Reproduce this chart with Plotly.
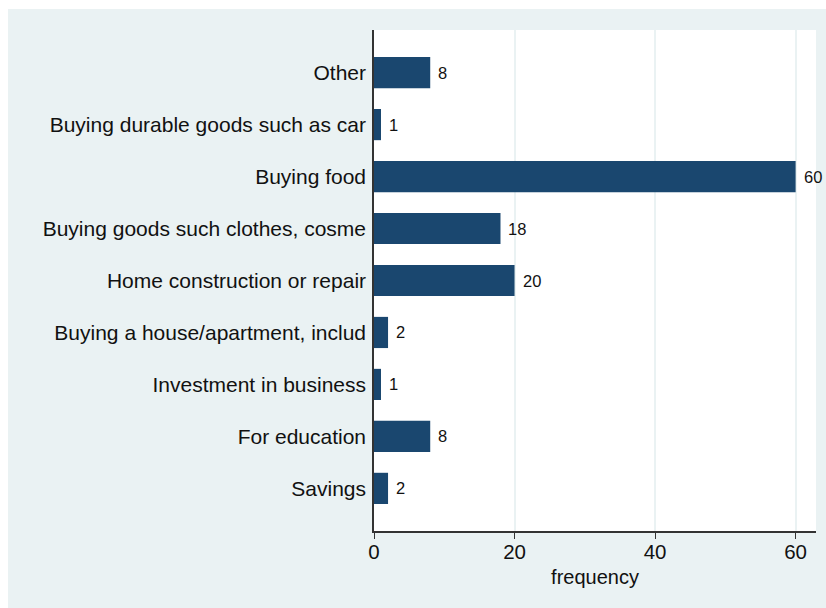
"""Horizontal bar chart of the reported use of money (frequency)."""

import plotly.graph_objects as go

################################################################################
# Data (top to bottom as shown)

categories = [
    "Other",
    "Buying durable goods such as car",
    "Buying food",
    "Buying goods such clothes, cosme",
    "Home construction or repair",
    "Buying a house/apartment, includ",
    "Investment in business",
    "For education",
    "Savings",
]
frequency = [8, 1, 60, 18, 20, 2, 1, 8, 2]
x_ticks = [0, 20, 40, 60]

################################################################################
# Figure

BAR_COLOR = "#1A476F"
BG_COLOR = "#EAF2F3"
FONT = "Liberation Sans, Arial, Helvetica, sans-serif"

fig = go.Figure()
fig.add_trace(
    go.Bar(x=frequency, y=categories, orientation="h",
           marker=dict(color=BAR_COLOR, line=dict(width=0)),
           width=0.6, hoverinfo="x+y"))

# value labels to the right of every bar
for cat, val in zip(categories, frequency):
    fig.add_annotation(x=val, y=cat, text=str(val), showarrow=False,
                       xanchor="left", xshift=6,
                       font=dict(size=16.5, color="#111111", family=FONT))

fig.update_layout(
    width=818, height=599,
    margin=dict(l=366, r=10, t=21, b=77),
    paper_bgcolor=BG_COLOR,
    plot_bgcolor="white",
    font=dict(family=FONT, color="#111111"),
    showlegend=False,
    bargap=0.4,
)
fig.update_xaxes(
    range=[0, 62.9], tickvals=x_ticks,
    showgrid=True, gridcolor=BG_COLOR, gridwidth=1.5,
    showline=True, linecolor="#333333", linewidth=1.5,
    ticks="outside", ticklen=6, tickcolor="#333333", tickwidth=1.2,
    tickfont=dict(size=20.5), zeroline=False, ticklabelstandoff=-4,
    title=dict(text="frequency", font=dict(size=20), standoff=8),
)
fig.update_yaxes(
    range=[8.82, -0.82], showgrid=False,
    showline=True, linecolor="#333333", linewidth=1.5,
    ticks="", tickfont=dict(size=21), ticklabelstandoff=2,
)

# page margin: white only on top and left, figure runs to the right edge
fig.write_html("out.html",
               post_script="document.body.style.margin='9px 0 0 8px';")
